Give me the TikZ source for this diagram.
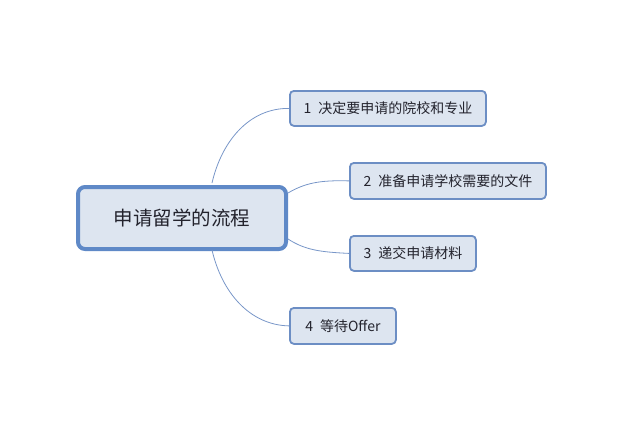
\documentclass[tikz,border=0pt]{standalone}
\usepackage{fontspec}
\setmainfont{Noto Sans CJK SC}
\begin{document}
\begin{tikzpicture}[x=1pt,y=-1pt,
  boxfill/.style={fill={rgb,255:red,221;green,229;blue,240}},
  sub/.style={boxfill,draw={rgb,255:red,108;green,142;blue,196},line width=1.8pt,rounded corners=4pt,text={rgb,255:red,35;green,35;blue,45},font=\fontsize{14}{16}\selectfont,inner sep=0pt,anchor=north west},
  mainbox/.style={boxfill,draw={rgb,255:red,95;green,137;blue,199},line width=4pt,rounded corners=7pt,text={rgb,255:red,35;green,35;blue,45},font=\fontsize{19.5}{22}\selectfont,inner sep=0pt,anchor=north west},
  link/.style={draw={rgb,255:red,120;green,150;blue,200},line width=0.8pt}]
\useasboundingbox (0,0) rectangle (640,421);
\node[mainbox,minimum width=208,minimum height=62] (m) at (76,185) {申请留学的流程};
\node[sub,minimum width=196,minimum height=35] (a) at (289,90) {1\hspace{0.5em}决定要申请的院校和专业};
\node[sub,minimum width=196,minimum height=36] (b) at (349,162) {2\hspace{0.5em}准备申请学校需要的文件};
\node[sub,minimum width=126,minimum height=35] (c) at (349,235) {3\hspace{0.5em}递交申请材料};
\node[sub,minimum width=106,minimum height=36] (d) at (289,307) {4\hspace{0.5em}等待Offer};
\coordinate (mt) at (212,183);
\coordinate (mb) at (212,250);
\draw[link] (mt) .. controls (222,140) and (250,108) .. (a.west);
\draw[link] (m.east |- 0,193) .. controls (305,183) and (320,180) .. (b.west);
\draw[link] (m.east |- 0,239) .. controls (305,250) and (320,252) .. (c.west);
\draw[link] (mb) .. controls (222,293) and (250,325) .. (d.west);
\end{tikzpicture}
\end{document}
